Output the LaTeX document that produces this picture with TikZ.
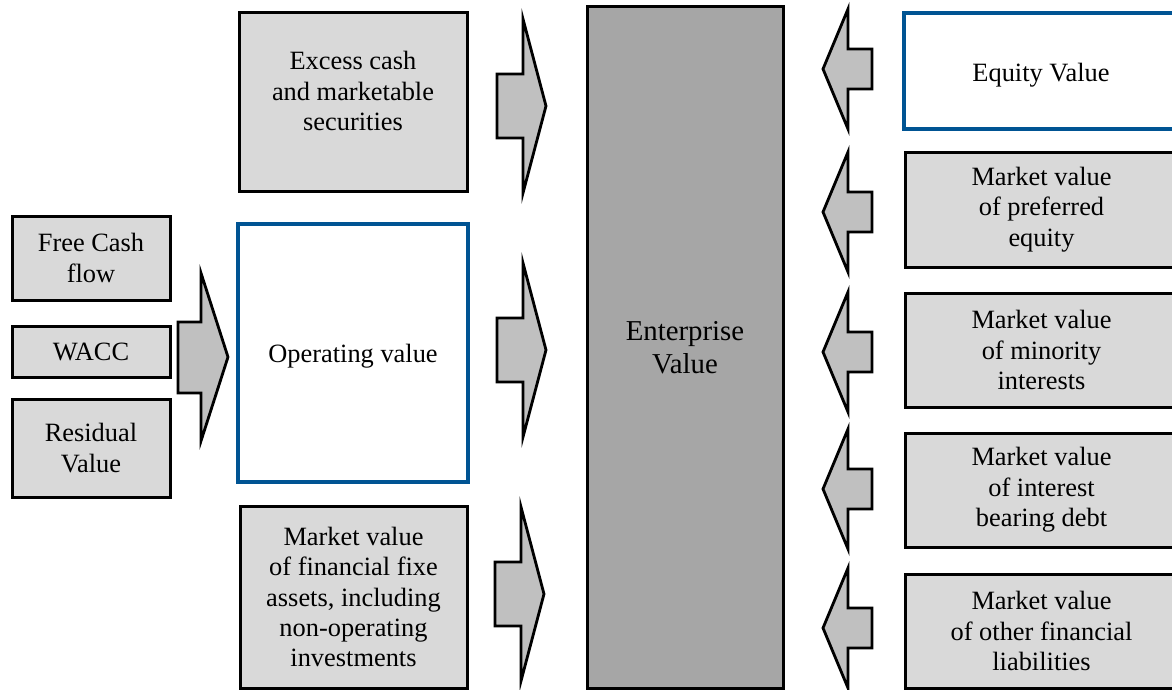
\documentclass[tikz,border=0pt]{standalone}
\usepackage{fontspec}
\setmainfont{Liberation Serif}
\usepackage{tikz}
\definecolor{boxgrey}{RGB}{217,217,217}
\definecolor{arrowgrey}{RGB}{192,192,192}
\definecolor{evgrey}{RGB}{166,166,166}
\definecolor{frameblue}{RGB}{0,84,147}
\tikzset {
    style A/.style={
        fill=boxgrey,
        draw=black,
        line width=1.5pt,
        rectangle, % Set the shape as a rectangle
        inner sep=0pt,
        align=center,
    },
    style B/.style={
        fill=white,
        draw=frameblue,
        line width=2pt,
        rectangle, % Set the shape as a rectangle
        inner sep=0pt,
        align=center,
    },
    style C/.style={
        fill=evgrey,
        draw=black,
        line width=1.5pt,
        rectangle, % Set the shape as a rectangle
        inner sep=0pt,
        align=center,
        font=\fontsize{14.4}{16.5}\selectfont,
    },
    style D/.style={
        fill=arrowgrey,
        draw=black,
        line width=1.4pt,
        line join=miter,
    },
    right block/.pic={
        \draw[style D] (0,-32) -- (26,-32) -- (26,-87) -- (49,0) -- (26,87) -- (26,32) -- (0,32) -- cycle;
    },
    left block/.pic={
        \draw[style D] (0,0) -- (25,-60) -- (25,-20) -- (49,-20) -- (49,20) -- (25,20) -- (25,60) -- cycle;
    },
}
\begin{document}
\begin{tikzpicture}
[x=0.5pt, y=-0.5pt, font=\fontsize{13.2}{15.2}\selectfont]

\useasboundingbox (0,0) rectangle (1172,690);
\clip (0,0) rectangle (1172,690);

% inputs of the operating value
\node [style A, minimum width=79pt, minimum height=42pt] (fcf) at (91,258) {Free Cash\\flow};
\node [style A, minimum width=79pt, minimum height=25.5pt] (wacc) at (91,351.5) {WACC};
\node [style A, minimum width=79pt, minimum height=49pt] (rv) at (91,448) {Residual\\Value};
\draw [style D] (178,322) -- (201,322) -- (201,273) -- (228,357) -- (201,441) -- (201,393) -- (178,393) -- cycle;

% assets side
\node [style A, minimum width=114pt, minimum height=89pt, text depth=11pt] (excess) at (353,102) {Excess cash\\and marketable\\securities};
\node [style B, minimum width=115pt, minimum height=129pt, text height=12pt] (opval) at (353,353) {Operating value};
\node [style A, minimum width=113.5pt, minimum height=91pt] (finfix) at (353.5,597) {Market value\\of financial fixe\\assets, including\\non-operating\\investments};

\pic at (497,106) {right block};
\pic at (497,350) {right block};
\pic at (495,594) {right block};

\node [style C, minimum width=98pt, minimum height=340.5pt] (ev) at (685,347.5) {Enterprise\\Value};

% claims side
\pic at (823,69) {left block};
\pic at (823,212) {left block};
\pic at (823,352) {left block};
\pic at (823,489) {left block};
\pic at (823,628) {left block};

\node [style B, minimum width=137pt, minimum height=58pt, text height=13pt] (equity) at (1041,71) {Equity Value};
\node [style A, minimum width=136.5pt, minimum height=57.5pt] (pref) at (1041.5,209.5) {Market value\\of preferred\\equity};
\node [style A, minimum width=136.5pt, minimum height=57pt] (minority) at (1041.5,350) {Market value\\of minority\\interests};
\node [style A, minimum width=136.5pt, minimum height=57pt] (debt) at (1041.5,490) {Market value\\of interest\\bearing debt};
\node [style A, minimum width=136.5pt, minimum height=57pt] (other) at (1041.5,631) {Market value\\of other financial\\liabilities};

\end{tikzpicture}
\end{document}
